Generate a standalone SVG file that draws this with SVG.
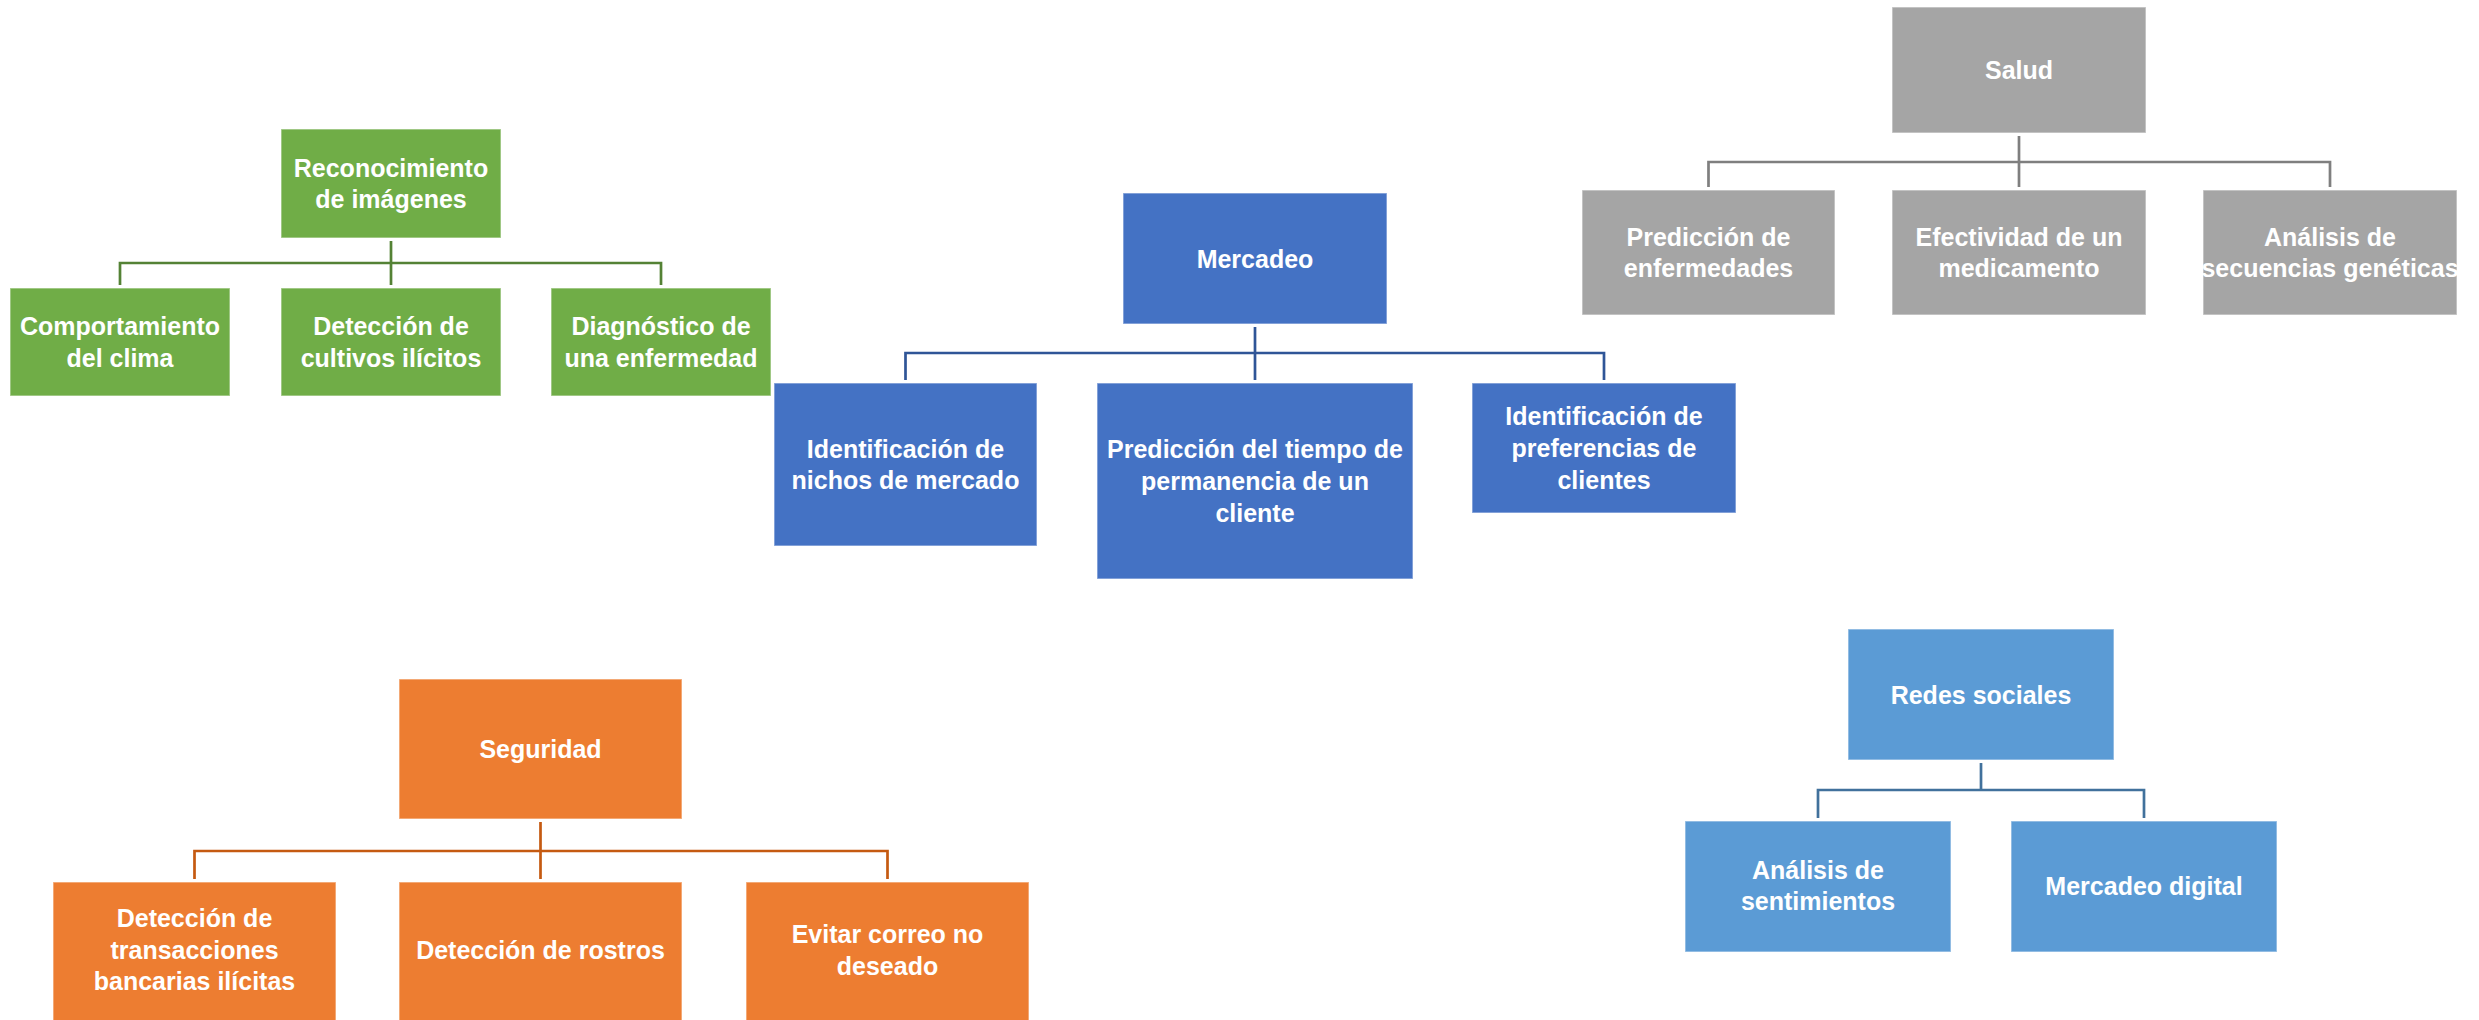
<svg xmlns="http://www.w3.org/2000/svg" width="2479" height="1020" viewBox="0 0 2479 1020">
<style>
  .box { stroke: #ffffff; stroke-opacity: 0.45; stroke-width: 1.5; }
  .green { fill: #70AD47; }
  .blue { fill: #4472C4; }
  .grey { fill: #A5A5A5; }
  .orange { fill: #ED7D31; }
  .sky { fill: #5B9BD5; }
  text { font-family: "Liberation Sans", Arial, sans-serif; font-weight: bold; font-size: 25px; fill: #ffffff; text-anchor: middle; }
  .conn { fill: none; stroke-width: 2.7; }
</style>
<rect width="2479" height="1020" fill="#ffffff"/>

<g id="connectors">
  <path class="conn" stroke="#548235" d="M391,241 V285 M120,285 V263 H661 V285"/>
  <path class="conn" stroke="#2F5597" d="M1255,327 V380 M905.5,380 V353 H1604 V380"/>
  <path class="conn" stroke="#7F7F7F" d="M2019,136 V187 M1708.5,187 V162 H2330 V187"/>
  <path class="conn" stroke="#C55A11" d="M540.5,822 V879 M194.5,879 V851 H887.5 V879"/>
  <path class="conn" stroke="#41719C" d="M1981,763 V790 M1818,818 V790 H2144 V818"/>
</g>

<g id="reconocimiento">
  <rect class="box green" x="281" y="129" width="220" height="109"/>
  <text x="391" y="177">Reconocimiento</text>
  <text x="391" y="208">de imágenes</text>
</g>
<g id="comportamiento">
  <rect class="box green" x="10" y="288" width="220" height="108"/>
  <text x="120" y="335">Comportamiento</text>
  <text x="120" y="367">del clima</text>
</g>
<g id="cultivos">
  <rect class="box green" x="281" y="288" width="220" height="108"/>
  <text x="391" y="335">Detección de</text>
  <text x="391" y="367">cultivos ilícitos</text>
</g>
<g id="diagnostico">
  <rect class="box green" x="551" y="288" width="220" height="108"/>
  <text x="661" y="335">Diagnóstico de</text>
  <text x="661" y="367">una enfermedad</text>
</g>

<g id="mercadeo">
  <rect class="box blue" x="1123" y="193" width="264" height="131"/>
  <text x="1255" y="267.5">Mercadeo</text>
</g>
<g id="nichos">
  <rect class="box blue" x="774" y="383" width="263" height="163"/>
  <text x="905.5" y="457.5">Identificación de</text>
  <text x="905.5" y="489">nichos de mercado</text>
</g>
<g id="permanencia">
  <rect class="box blue" x="1097" y="383" width="316" height="196"/>
  <text x="1255" y="458">Predicción del tiempo de</text>
  <text x="1255" y="490">permanencia de un</text>
  <text x="1255" y="521.5">cliente</text>
</g>
<g id="preferencias">
  <rect class="box blue" x="1472" y="383" width="264" height="130"/>
  <text x="1604" y="425">Identificación de</text>
  <text x="1604" y="457">preferencias de</text>
  <text x="1604" y="488.5">clientes</text>
</g>

<g id="salud">
  <rect class="box grey" x="1892" y="7" width="254" height="126"/>
  <text x="2019" y="79">Salud</text>
</g>
<g id="enfermedades">
  <rect class="box grey" x="1582" y="190" width="253" height="125"/>
  <text x="1708.5" y="245.5">Predicción de</text>
  <text x="1708.5" y="277">enfermedades</text>
</g>
<g id="medicamento">
  <rect class="box grey" x="1892" y="190" width="254" height="125"/>
  <text x="2019" y="245.5">Efectividad de un</text>
  <text x="2019" y="277">medicamento</text>
</g>
<g id="geneticas">
  <rect class="box grey" x="2203" y="190" width="254" height="125"/>
  <text x="2330" y="245.5">Análisis de</text>
  <text x="2330" y="277">secuencias genéticas</text>
</g>

<g id="seguridad">
  <rect class="box orange" x="399" y="679" width="283" height="140"/>
  <text x="540.5" y="758">Seguridad</text>
</g>
<g id="transacciones">
  <rect class="box orange" x="53" y="882" width="283" height="145"/>
  <text x="194.5" y="927">Detección de</text>
  <text x="194.5" y="958.5">transacciones</text>
  <text x="194.5" y="990">bancarias ilícitas</text>
</g>
<g id="rostros">
  <rect class="box orange" x="399" y="882" width="283" height="145"/>
  <text x="540.5" y="958.5">Detección de rostros</text>
</g>
<g id="correo">
  <rect class="box orange" x="746" y="882" width="283" height="145"/>
  <text x="887.5" y="943">Evitar correo no</text>
  <text x="887.5" y="974.5">deseado</text>
</g>

<g id="redes">
  <rect class="box sky" x="1848" y="629" width="266" height="131"/>
  <text x="1981" y="703.5">Redes sociales</text>
</g>
<g id="sentimientos">
  <rect class="box sky" x="1685" y="821" width="266" height="131"/>
  <text x="1818" y="878.5">Análisis de</text>
  <text x="1818" y="910">sentimientos</text>
</g>
<g id="digital">
  <rect class="box sky" x="2011" y="821" width="266" height="131"/>
  <text x="2144" y="895">Mercadeo digital</text>
</g>
</svg>
